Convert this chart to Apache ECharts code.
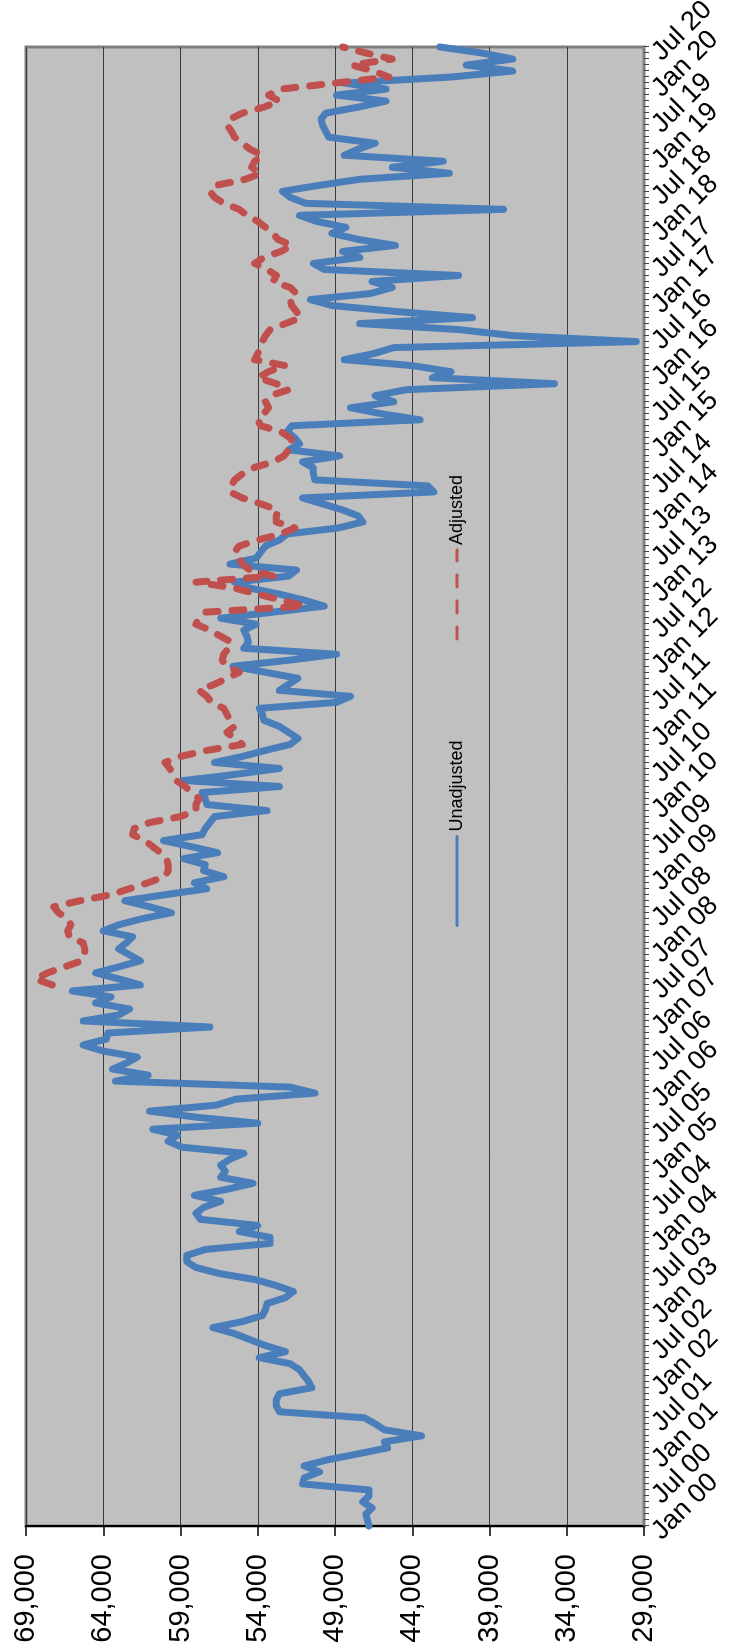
<!DOCTYPE html>
<html>
<head>
<meta charset="utf-8">
<script src="https://cdn.jsdelivr.net/npm/echarts/dist/echarts.min.js"></script>
<style>
html,body{margin:0;padding:0;background:#ffffff;width:735px;height:1652px;overflow:hidden;}
#wrap{position:absolute;left:0;top:0;width:1652px;height:735px;transform-origin:0 0;transform:translateY(1652px) rotate(-90deg);}
</style>
</head>
<body>
<div id="wrap"></div>
<script>
// ---- data ----
const monthNames = ['Jan','Feb','Mar','Apr','May','Jun','Jul','Aug','Sep','Oct','Nov','Dec'];
const yearLabels = ['00','01','02','03','04','05','06','07','08','09','10','11','12','13','14','15','16','17','18','19','20'];
const categories = [];
for (const y of yearLabels) {
  for (const m of monthNames) {
    categories.push(m + ' ' + y);
    if (y === '20' && m === 'Jul') break;
  }
}
// tick labels shown on the date axis (January and July of each year)
const shownMonths = ['Jan', 'Jul'];

const unadjusted = [
  46800, 46900, 47000, 46600, 47200, 46800, 46800, 51100, 51000, 50000, 51000, 49500, // 2000
  47500, 45600, 45800, 43400, 45800, 46400, 47100, 52600, 52800, 52800, 52600, 50500, // 2001
  50700, 51000, 51300, 51900, 53900, 52200, 53500, 54500, 55500, 56900, 55000, 53700, // 2002
  53500, 53400, 52200, 51700, 52800, 54200, 56500, 58000, 58600, 58600, 57400, 53200, // 2003
  53200, 55200, 54000, 57700, 58000, 57500, 56400, 58100, 56000, 54300, 56400, 56100, // 2004
  56400, 55800, 54900, 58900, 59800, 59200, 60800, 54000, 58000, 61000, 56700, 55400, // 2005
  50300, 51900, 63200, 61100, 63400, 62500, 61800, 64000, 65300, 63800, 63700, 57100, // 2006
  65300, 63000, 62300, 64500, 63500, 66000, 61600, 63000, 64500, 63000, 61600, 62300, // 2007
  63000, 62500, 62100, 64000, 63000, 61500, 59600, 61000, 62600, 60000, 57300, 58100, // 2008
  56200, 57500, 57400, 58800, 56600, 58300, 60100, 57600, 57400, 57100, 56800, 53400, // 2009
  57300, 57400, 57600, 52600, 58800, 55500, 52600, 56800, 55000, 53500, 51900, 51400, // 2010
  52000, 52600, 53600, 53700, 53900, 48900, 48000, 52600, 52000, 51400, 53500, 55600, // 2011
  52000, 48900, 54900, 54600, 54700, 54900, 54100, 56400, 53000, 49700, 51000, 52600, // 2012
  54500, 55500, 52000, 51500, 55800, 54100, 53800, 53500, 52600, 52100, 48800, 47200, // 2013
  47500, 48500, 49800, 51100, 42600, 43000, 50300, 50400, 50400, 51100, 48700, 52000, // 2014
  51300, 51600, 52100, 51800, 43500, 46000, 48000, 45200, 46400, 44400, 34800, 42700, // 2015
  41500, 44000, 48400, 46500, 45200, 29500, 37500, 41000, 47400, 40100, 45000, 49200, // 2016
  50600, 46700, 45300, 46600, 41000, 49700, 50400, 47400, 48500, 45100, 47500, 49200, // 2017
  48300, 50200, 51300, 38100, 50900, 51900, 52400, 50000, 47400, 41600, 45300, 42000, // 2018
  48400, 47500, 46400, 49400, 49600, 49800, 49900, 49600, 47500, 45700, 48900, 45700, // 2019
  48400, 41500, 37500, 40500, 37500, 39500, 42200                                      // 2020
];

const adjusted = [
  null, null, null, null, null, null, null, null, null, null, null, null, // 2000
  null, null, null, null, null, null, null, null, null, null, null, null, // 2001
  null, null, null, null, null, null, null, null, null, null, null, null, // 2002
  null, null, null, null, null, null, null, null, null, null, null, null, // 2003
  null, null, null, null, null, null, null, null, null, null, null, null, // 2004
  null, null, null, null, null, null, null, null, null, null, null, null, // 2005
  null, null, null, null, null, null, null, null, null, null, null, null, // 2006
  null, null, null, null, null, null, 67300, 68400, 67600, 66500, 65400, 65200, // 2007
  65200, 65300, 66200, 66300, 66100, 66300, 66900, 67200, 65500, 63500, 62300, 61100, // 2008
  60000, 59800, 59800, 59900, 60300, 60800, 61300, 62100, 62000, 61000, 59000, 58000, // 2009
  58000, 57800, 58300, 58700, 59300, 59500, 59700, 60000, 59000, 57300, 55000, 55500, // 2010
  56000, 55500, 55800, 56000, 56200, 57000, 57300, 57800, 56800, 56000, 55200, 56000, // 2011
  56300, 56200, 55900, 55700, 56400, 57100, 58000, 57800, 57400, 51000, 52500, 54000, // 2012
  55500, 58000, 53000, 54500, 55000, 55200, 55500, 55200, 54000, 52500, 51600, 52800, // 2013
  52800, 52700, 53800, 55000, 55800, 55700, 55500, 55000, 54300, 53000, 52300, 52000, // 2014
  51700, 51900, 52500, 53800, 54000, 53600, 53300, 53500, 53200, 52000, 52800, 54000, // 2015
  53300, 52200, 54200, 54000, 53800, 53700, 53500, 53200, 52200, 51200, 51500, 51800, // 2016
  51900, 51500, 51900, 53000, 52800, 53400, 54200, 53600, 52500, 51800, 52700, 53000, // 2017
  53500, 54000, 54700, 55200, 56200, 56800, 57100, 56700, 54800, 53800, 54400, 54200, // 2018
  53700, 54500, 55000, 55500, 55700, 56000, 55800, 55000, 53600, 52600, 53300, 52500, // 2019
  49000, 45500, 46500, 47900, 45300, 47000, 48500                                      // 2020
];

const valueMin = 29000, valueMax = 69000, valueStep = 5000;

// ---- chart ----
const chart = echarts.init(document.getElementById('wrap'), null, {renderer: 'canvas'});
const font = 'Liberation Sans, Arial, Helvetica, sans-serif';
chart.setOption({
  animation: false,
  backgroundColor: '#ffffff',
  textStyle: {fontFamily: font},
  grid: {
    left: 126, right: 47, top: 26, bottom: 91,
    outerBoundsMode: 'none', containLabel: false,
    show: true, backgroundColor: '#c0c0c0', borderColor: '#808080', borderWidth: 3
  },
  legend: {
    data: ['Unadjusted', 'Adjusted'],
    left: 725, top: 448, padding: 0,
    itemWidth: 89, itemHeight: 18, itemGap: 100,
    textStyle: {fontSize: 18, color: '#000', fontFamily: font},
    lineStyle: {width: 3},
    itemStyle: {color: 'transparent', borderColor: 'transparent', borderWidth: 0, opacity: 0}
  },
  xAxis: {
    type: 'category',
    data: categories,
    boundaryGap: false,
    axisLine: {show: true, lineStyle: {color: '#808080', width: 2}},
    axisTick: {show: true, interval: 0, length: 5, lineStyle: {color: '#404040', width: 1}},
    axisLabel: {
      interval: 0, rotate: -45, fontSize: 27, color: '#000', margin: 3, fontFamily: font,
      verticalAlign: 'top', hideOverlap: false,
      formatter: (val) => shownMonths.indexOf(val.slice(0, 3)) >= 0 ? val : ''
    },
    splitLine: {show: false}
  },
  yAxis: {
    type: 'value',
    min: valueMin, max: valueMax, interval: valueStep,
    axisLine: {show: true, lineStyle: {color: '#000', width: 2}},
    axisTick: {show: true, length: 10, lineStyle: {color: '#000', width: 1.5}},
    axisLabel: {
      fontSize: 29, color: '#000', margin: 28, fontFamily: font,
      formatter: v => v.toLocaleString('en-US')
    },
    splitLine: {show: true, lineStyle: {color: '#3a3a3a', width: 1}}
  },
  series: [
    {
      name: 'Unadjusted', type: 'line', data: unadjusted, symbol: 'none',
      lineStyle: {color: '#4a7ebb', width: 7, cap: 'round', join: 'round'},
      itemStyle: {color: '#4a7ebb'}
    },
    {
      name: 'Adjusted', type: 'line', data: adjusted, symbol: 'none', connectNulls: false,
      lineStyle: {color: '#c0504d', width: 7, type: [12, 14], cap: 'round', join: 'round'},
      itemStyle: {color: '#c0504d'}
    }
  ]
});
</script>
</body>
</html>
